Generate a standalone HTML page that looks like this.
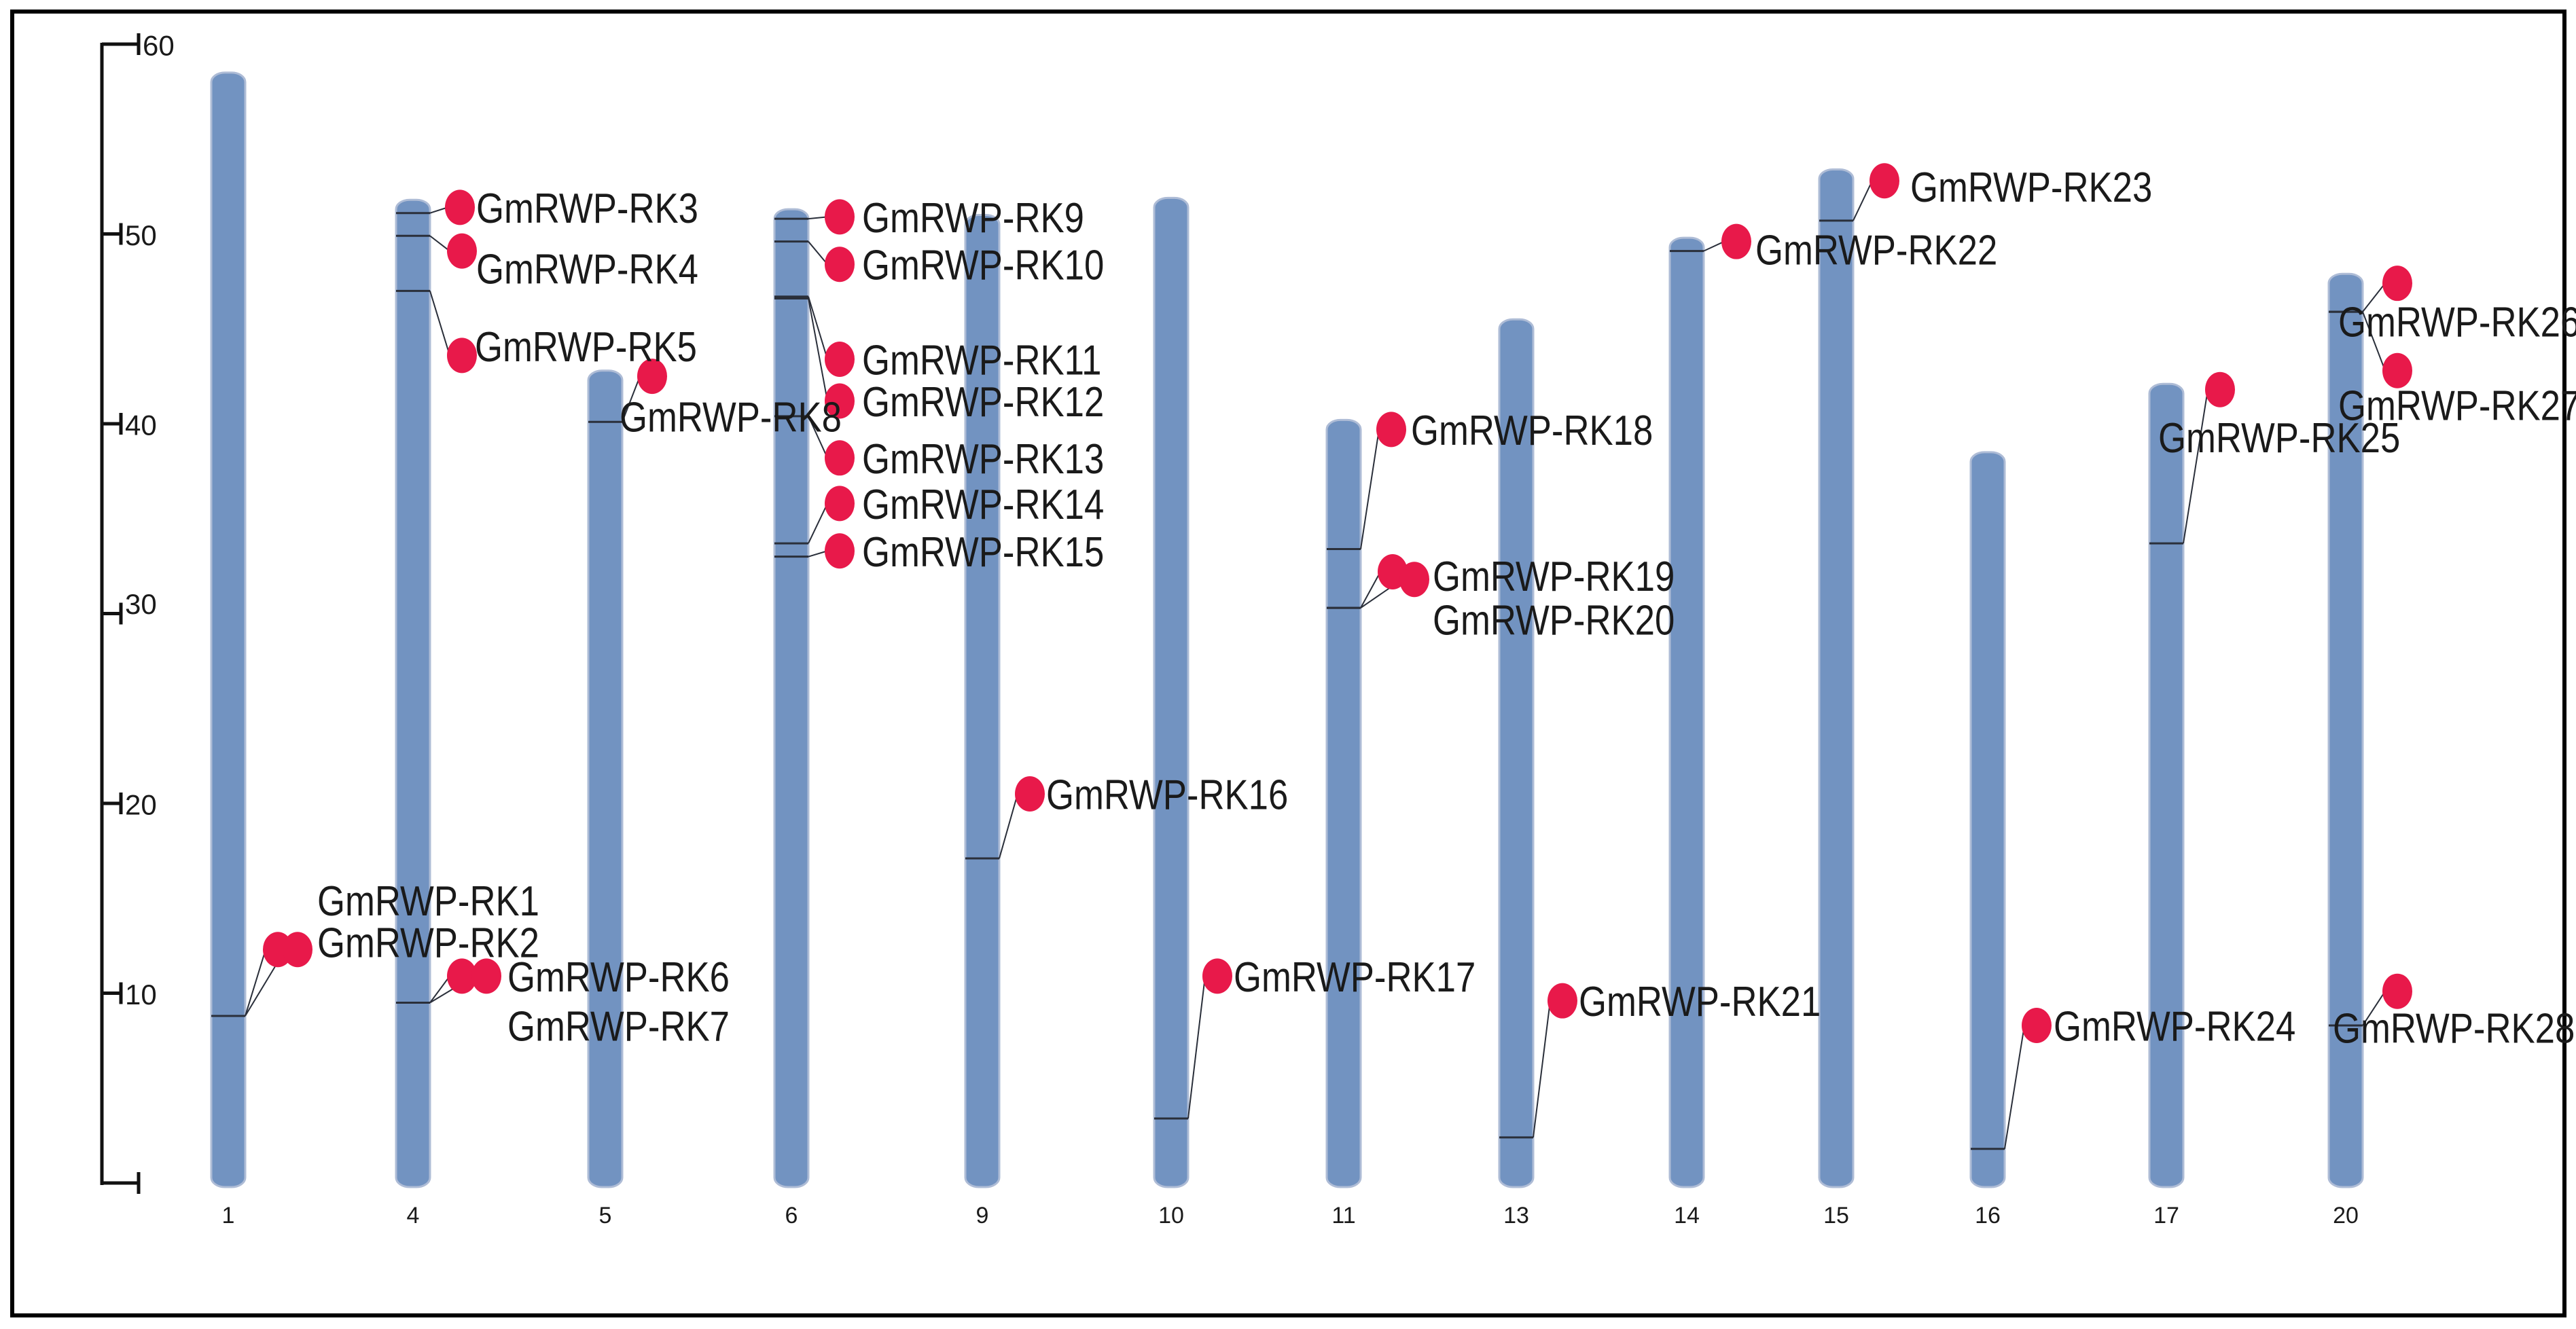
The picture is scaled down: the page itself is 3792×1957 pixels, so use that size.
<!DOCTYPE html>
<html><head><meta charset="utf-8"><style>
html,body{margin:0;padding:0;background:#fff}
svg{display:block}
text{font-family:"Liberation Sans",sans-serif;fill:#1a1a1a}
</style></head><body>
<svg id="chart" width="3792" height="1957" viewBox="0 0 3792 1957" xmlns="http://www.w3.org/2000/svg">
<rect x="18" y="17" width="3757" height="1920" fill="#fff" stroke="#000" stroke-width="6"/>
<g id="axis"></g>
<g id="chroms"></g>
<g id="genes"></g>
</svg>
<script>
const chrNames = ['1','4','5','6','9','10','11','13','14','15','16','17','20'];
const chrLen = [58.5,51.8,42.8,51.3,51.0,51.9,40.2,45.5,49.8,53.4,38.5,42.1,47.9];
const chrSlotX = [336,608,891,1165,1446,1724,1978,2232,2483,2703,2926,3189,3453];
const tickVals = [0,10,20,30,40,50,60];
const geneNames = ['GmRWP-RK1','GmRWP-RK2','GmRWP-RK3','GmRWP-RK4','GmRWP-RK5','GmRWP-RK6','GmRWP-RK7','GmRWP-RK8','GmRWP-RK9','GmRWP-RK10','GmRWP-RK11','GmRWP-RK12','GmRWP-RK13','GmRWP-RK14','GmRWP-RK15','GmRWP-RK16','GmRWP-RK17','GmRWP-RK18','GmRWP-RK19','GmRWP-RK20','GmRWP-RK21','GmRWP-RK22','GmRWP-RK23','GmRWP-RK24','GmRWP-RK25','GmRWP-RK26','GmRWP-RK27','GmRWP-RK28'];
const geneChr = ['1','1','4','4','4','4','4','5','6','6','6','6','6','6','6','9','10','11','11','11','13','14','15','16','17','20','20','20'];
const genePos = [8.8,8.8,51.1,49.9,47.0,9.5,9.5,40.1,50.8,49.6,46.7,46.6,40.4,33.7,33.0,17.1,3.4,33.4,30.3,30.3,2.4,49.1,50.7,1.8,33.7,45.9,45.9,8.3];
const dotMb = [12.3,12.3,51.4,49.1,43.6,10.9,10.9,42.5,50.9,48.4,43.4,41.2,38.2,35.8,33.3,20.5,10.9,39.7,32.2,31.8,9.6,49.6,52.8,8.3,41.8,47.4,42.8,10.1];
const labelMb = [14.9,12.7,51.4,48.2,44.1,10.9,8.3,40.4,50.9,48.4,43.4,41.2,38.2,35.8,33.3,20.5,10.9,39.7,32.0,29.7,9.6,49.2,52.5,8.3,39.3,45.4,41.0,8.2];
const dotDx = [73,102,69,72,72,72,108,69,71,71,71,71,71,71,71,70,68,70,72,104,68,73,71,72,79,76,76,76];
const labelDx = [131,131,93,93,91,139,139,21,104,104,104,104,104,104,104,94,92,99,131,131,92,101,109,97,-12,-11,-11,-19];

const NS='http://www.w3.org/2000/svg';
const Y0=1742, PX=27.95;
function y(v){return Y0-PX*v;}
function mk(tag,attrs,parent){const e=document.createElementNS(NS,tag);for(const k in attrs)e.setAttribute(k,attrs[k]);parent.appendChild(e);return e;}
const axis=document.getElementById('axis'), chroms=document.getElementById('chroms'), genes=document.getElementById('genes');

const axLine=mk('line',{x1:150,y1:y(60)-2,x2:150,y2:y(0)+3,stroke:'#111','stroke-width':5},axis);


tickVals.forEach(v=>{
  const end=(v===0||v===60)?204:178;
  const t=mk('path',{d:`M150 ${y(v)} H${end} M${end} ${y(v)-16} V${y(v)+16}`,stroke:'#111','stroke-width':5,fill:'none'},axis);
  
  
  const lx=(v===0)?null:(v===60?210:184);
  if(lx){
    const tx=mk('text',{x:lx,y:y(v)+(v===30?-14:2),'font-size':42,'dominant-baseline':'central'},axis);
    tx.textContent=v;
    
    
  }
});

chrNames.forEach((n,i)=>{
  const cx=chrSlotX[i], top=y(chrLen[i]), bot=y(0)+6;
  const r=mk('rect',{x:cx-25,y:top,width:50,height:bot-top,rx:20,ry:14,fill:'#7293c1',stroke:'#aebcd6','stroke-width':3},chroms);
  
  
  const t=mk('text',{x:cx,y:1790,'font-size':34,'text-anchor':'middle','dominant-baseline':'central'},chroms);
  t.textContent=n;
  
  
});

geneNames.forEach((g,i)=>{
  const ci=chrNames.indexOf(geneChr[i]); const cx=chrSlotX[ci];
  const my=y(genePos[i]); const dx=cx+dotDx[i], dy=y(dotMb[i]);
  const m=mk('line',{x1:cx-25,y1:my,x2:cx+25,y2:my,stroke:'#2a2f3a','stroke-width':3},genes);
  
  
  const c=mk('line',{x1:cx+25,y1:my,x2:dx-18,y2:dy,stroke:'#2a2f3a','stroke-width':2},genes);
  
  
});
geneNames.forEach((g,i)=>{
  const ci=chrNames.indexOf(geneChr[i]); const cx=chrSlotX[ci];
  const dx=cx+dotDx[i], dy=y(dotMb[i]);
  const d=mk('ellipse',{cx:dx,cy:dy,rx:22,ry:26,fill:'#e8194a'},genes);
  
  
});
geneNames.forEach((g,i)=>{
  const ci=chrNames.indexOf(geneChr[i]); const cx=chrSlotX[ci];
  const t=mk('text',{x:cx+labelDx[i],y:y(labelMb[i])+2,'font-size':62,'dominant-baseline':'central'},genes);
  t.textContent=g;
  
  
  const w=t.getComputedTextLength();
  if(w>0){t.setAttribute('textLength',(w*0.85).toFixed(1));t.setAttribute('lengthAdjust','spacingAndGlyphs');}
});
</script>
</body></html>
